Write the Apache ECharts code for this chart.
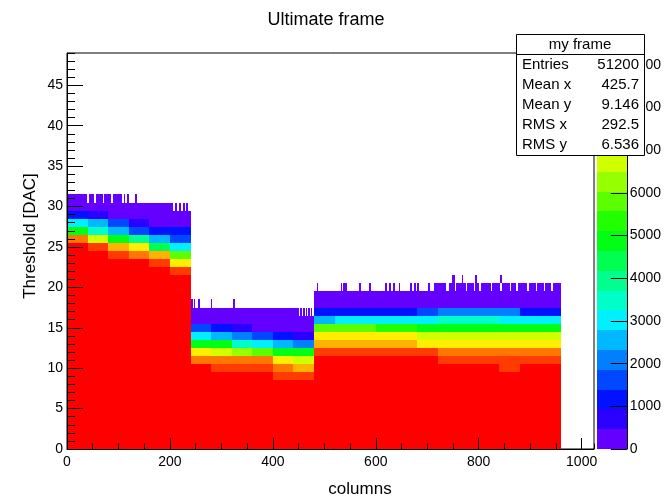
<!DOCTYPE html>
<html><head><meta charset="utf-8">
<script src="https://cdn.jsdelivr.net/npm/echarts@6/dist/echarts.min.js"></script>
<style>html,body{margin:0;padding:0;background:#fff}#c{width:664px;height:497px}</style>
</head><body><div id="c"></div>
<script>
// ---------- text ----------
const chartTitle = 'Ultimate frame';
const xTitle = 'columns';
const yTitle = 'Threshold [DAC]';
const statsTitle = 'my frame';
const statsNames = ['Entries', 'Mean x', 'Mean y', 'RMS x', 'RMS y'];
const statsValues = ['51200', '425.7', '9.146', '292.5', '6.536'];

// ---------- axis ranges ----------
const X_MAX = 1024, Y_MAX = 49, Z_MAX = 9280;
const FULL_COUNT = 9280;          // saturated bins (red)

// ---------- data: column groups (40 columns each) ----------
const colStarts = [0, 40, 80, 120, 160, 200, 240, 280, 320, 360, 400, 440,
  480, 520, 560, 600, 640, 680, 720, 760, 800, 840, 880, 920];
const colWidth = 40;
// first threshold row (bin centre) above the fully saturated block
const firstTailRow = [26, 25, 24, 24, 23, 22, 11, 10, 10, 10, 9, 9,
  12, 12, 12, 12, 12, 12, 11, 11, 11, 10, 11, 11];
// counts for successive rows starting at firstTailRow
const tails = [
  [8100, 4900, 3000, 1150, 400],
  [8600, 6700, 3300, 2550, 700, 400],
  [8600, 7650, 4900, 2550, 1600, 350, 250],
  [8100, 7200, 3950, 1600, 700, 350, 200],
  [8600, 7650, 4400, 2550, 1150, 400, 300, 150],
  [8600, 7400, 5600, 3000, 1600, 1150, 400, 250],
  [8100, 7200, 4900, 3000, 1600, 450, 200],
  [8600, 8100, 6700, 4900, 2550, 1150, 400, 200],
  [8600, 8100, 6250, 3500, 2100, 700, 400, 200],
  [8600, 7900, 5800, 3000, 1600, 400, 300, 150],
  [8600, 8100, 7200, 4900, 2550, 1150, 400, 300, 150],
  [8600, 7650, 6700, 4900, 2100, 700, 400, 300],
  [8600, 7650, 7200, 5800, 2550, 1150, 400, 250],
  [8600, 7650, 7200, 5800, 3000, 1150, 400, 250],
  [8600, 7650, 7200, 5800, 3000, 1150, 400, 250],
  [8600, 7650, 7200, 5350, 3000, 1150, 400, 250],
  [8600, 7650, 7200, 5350, 3000, 1150, 400, 250],
  [8400, 7400, 6900, 5000, 3000, 1600, 400, 250],
  [8600, 8100, 7200, 6700, 4900, 3300, 2100, 450, 300],
  [8600, 8100, 7200, 6700, 4900, 3300, 2100, 450, 300],
  [8600, 8000, 7200, 6700, 4900, 3300, 2100, 450, 300],
  [8600, 8400, 8000, 7300, 6700, 4900, 3000, 2100, 450, 300],
  [8500, 8100, 7200, 6700, 4700, 3000, 1150, 450, 300],
  [8500, 8100, 7200, 6700, 4700, 3000, 1150, 450, 300]
];
// sparse top fringe: [firstColumn, lastColumn, row, count]
const fringe = [
  [0, 38, 31, 150], [42, 52, 31, 150], [56, 68, 31, 150], [72, 84, 31, 150], [89, 105, 31, 150],
  [110, 112, 31, 150], [117, 119, 31, 150], [133, 135, 31, 150],
  [200, 205, 30, 150], [210, 212, 30, 150], [218, 220, 30, 150], [225, 228, 30, 150], [232, 234, 30, 150],
  [241, 243, 18, 150], [246, 248, 18, 150], [255, 257, 18, 150], [279, 281, 18, 150], [323, 325, 18, 150],
  [440, 450, 17, 150], [453, 456, 17, 150], [459, 461, 17, 150], [464, 466, 17, 150], [469, 471, 17, 150], [474, 476, 17, 150],
  [485, 486, 20, 150], [532, 534, 20, 150], [537, 539, 20, 150], [541, 543, 20, 150], [568, 570, 20, 150],
  [587, 589, 20, 150], [618, 620, 20, 150], [626, 628, 20, 150], [634, 636, 20, 150], [645, 647, 20, 150],
  [667, 670, 20, 150], [675, 677, 20, 150], [680, 683, 20, 150], [702, 704, 20, 150], [713, 736, 20, 150],
  [742, 752, 20, 150], [756, 775, 20, 150], [778, 790, 20, 150], [793, 800, 20, 150], [805, 822, 20, 150],
  [826, 840, 20, 150], [846, 860, 20, 150], [863, 872, 20, 150], [877, 892, 20, 150], [898, 910, 20, 150],
  [914, 925, 20, 150], [928, 940, 20, 150], [944, 958, 20, 150],
  [748, 752, 21, 150], [767, 769, 21, 150], [793, 795, 21, 150], [842, 844, 21, 150]
];

// ---------- palette (20 contour levels) ----------
const paletteColors = ['#6400ff', '#2c00ff', '#0012ff', '#0048ff', '#0080ff', '#00b8ff', '#00f0ff',
  '#00ffc8', '#00ff8f', '#00ff50', '#00ff14', '#22ff00', '#5cff00', '#96ff00', '#d0ff00',
  '#ffee00', '#ffb200', '#ff7700', '#ff3b00', '#ff0000'];

// ---------- build cells ----------
const cells = [];
colStarts.forEach((x0, g) => {
  const x1 = x0 + colWidth;
  const ft = firstTailRow[g];
  cells.push([x0, x1, 0, ft - 0.5, FULL_COUNT]);
  tails[g].forEach((v, i) => {
    const r = ft + i;
    cells.push([x0, x1, r - 0.5, r + 0.5, v]);
  });
});
fringe.forEach(([a, b, r, v]) => cells.push([a, b + 1, r - 0.5, r + 0.5, v]));

const nBands = paletteColors.length;
const bandStep = Z_MAX / nBands;
const pieces = paletteColors.map((c, k) => ({ gte: k * bandStep, lt: (k + 1) * bandStep, color: c }));
pieces[nBands - 1] = { gte: (nBands - 1) * bandStep, lte: Z_MAX * 2, color: paletteColors[nBands - 1] };
const bands = paletteColors.map((c, k) => [0, 1, k * bandStep, (k + 1) * bandStep, k]);

const FONT = '"Liberation Sans", Arial, Helvetica, sans-serif';

function rectItem(api, fill) {
  const p0 = api.coord([api.value(0), api.value(2)]);
  const p1 = api.coord([api.value(1), api.value(3)]);
  const x0 = Math.round(p0[0]), x1 = Math.round(p1[0]);
  const yb = Math.round(p0[1]), yt = Math.round(p1[1]);
  return {
    type: 'rect',
    shape: { x: x0, y: yt, width: Math.max(1, x1 - x0), height: Math.max(1, yb - yt) },
    style: { fill: fill, stroke: null }
  };
}

const chart = echarts.init(document.getElementById('c'), null, { renderer: 'canvas' });
const axisLabelStyle = { color: '#000', fontSize: 14, fontFamily: FONT, formatter: v => String(v) };

const option = {
  animation: false,
  backgroundColor: '#fff',
  grid: [
    { left: 67, top: 53, width: 527, height: 396, show: true, borderColor: '#000', borderWidth: 1, backgroundColor: 'transparent' },
    { left: 597, top: 53, width: 31, height: 396, show: false }
  ],
  xAxis: [
    { gridIndex: 0, type: 'value', z: 10, min: 0, max: X_MAX, interval: 200, position: 'bottom',
      axisLine: { show: true, onZero: false, lineStyle: { color: '#000', width: 1 } },
      axisTick: { show: true, inside: true, length: 11, lineStyle: { color: '#000' } },
      axisLabel: Object.assign({ margin: 6, showMaxLabel: false }, axisLabelStyle),
      splitLine: { show: false } },
    { gridIndex: 0, type: 'value', z: 10, min: 0, max: X_MAX, interval: 50, position: 'bottom', offset: 0,
      axisLine: { show: false, onZero: false },
      axisTick: { show: true, inside: true, length: 5.5, lineStyle: { color: '#000' } },
      axisLabel: { show: false }, splitLine: { show: false } },
    { gridIndex: 1, type: 'value', min: 0, max: 1, show: false, axisLine: { onZero: false } }
  ],
  yAxis: [
    { gridIndex: 0, type: 'value', z: 10, min: 0, max: Y_MAX, interval: 5, position: 'left',
      axisLine: { show: true, onZero: false, lineStyle: { color: '#000', width: 1 } },
      axisTick: { show: true, inside: true, length: 16, lineStyle: { color: '#000' } },
      axisLabel: Object.assign({ margin: 4, showMaxLabel: false }, axisLabelStyle),
      splitLine: { show: false } },
    { gridIndex: 0, type: 'value', z: 10, min: 0, max: Y_MAX, interval: 1, position: 'left', offset: 0,
      axisLine: { show: false, onZero: false },
      axisTick: { show: true, inside: true, length: 8, lineStyle: { color: '#000' } },
      axisLabel: { show: false }, splitLine: { show: false } },
    { gridIndex: 1, type: 'value', z: 10, min: 0, max: Z_MAX, interval: 1000, position: 'right',
      axisLine: { show: true, onZero: false, lineStyle: { color: '#000', width: 1 } },
      axisTick: { show: true, inside: true, length: 16, lineStyle: { color: '#000' } },
      axisLabel: Object.assign({ margin: 3, showMaxLabel: false }, axisLabelStyle),
      splitLine: { show: false } }
  ],
  visualMap: [{ type: 'piecewise', show: false, seriesIndex: 0, dimension: 4, pieces: pieces }],
  series: [
    { type: 'custom', xAxisIndex: 0, yAxisIndex: 0, clip: true,
      encode: { x: [0, 1], y: [2, 3] },
      renderItem: (params, api) => rectItem(api, api.visual('color')),
      data: cells },
    { type: 'custom', xAxisIndex: 2, yAxisIndex: 2, clip: true,
      encode: { x: [0, 1], y: [2, 3] },
      renderItem: (params, api) => rectItem(api, paletteColors[api.value(4)]),
      data: bands }
  ],
  graphic: [
    { type: 'text', z: 100, x: 326, y: 20, style: { text: chartTitle, fill: '#000', font: '18px ' + FONT, align: 'center', verticalAlign: 'middle', textAlign: 'center', textVerticalAlign: 'middle' } },
    { type: 'text', z: 100, x: 360, y: 489, style: { text: xTitle, fill: '#000', font: '17px ' + FONT, align: 'center', verticalAlign: 'middle', textAlign: 'center', textVerticalAlign: 'middle' } },
    { type: 'text', z: 100, x: 30, y: 236, rotation: Math.PI / 2, style: { text: yTitle, fill: '#000', font: '17px ' + FONT, align: 'center', verticalAlign: 'middle', textAlign: 'center', textVerticalAlign: 'middle' } },
    { type: 'rect', z: 100, shape: { x: 516.5, y: 34.5, width: 128, height: 121 }, style: { fill: '#fff', stroke: '#000', lineWidth: 1 } },
    { type: 'line', z: 101, shape: { x1: 516.5, y1: 54.5, x2: 644.5, y2: 54.5 }, style: { stroke: '#000', lineWidth: 1 } },
    { type: 'text', z: 101, x: 580, y: 45, style: { text: statsTitle, fill: '#000', font: '15px ' + FONT, align: 'center', verticalAlign: 'middle', textAlign: 'center', textVerticalAlign: 'middle' } }
  ].concat(statsNames.map((n, i) => ({ type: 'text', z: 101, x: 522, y: 65 + i * 20,
      style: { text: n, fill: '#000', font: '15px ' + FONT, align: 'left', verticalAlign: 'middle', textAlign: 'left', textVerticalAlign: 'middle' } })))
   .concat(statsValues.map((v, i) => ({ type: 'text', z: 101, x: 639, y: 65 + i * 20,
      style: { text: v, fill: '#000', font: '15px ' + FONT, align: 'right', verticalAlign: 'middle', textAlign: 'right', textVerticalAlign: 'middle' } })))
};
chart.setOption(option);
</script>
</body></html>
